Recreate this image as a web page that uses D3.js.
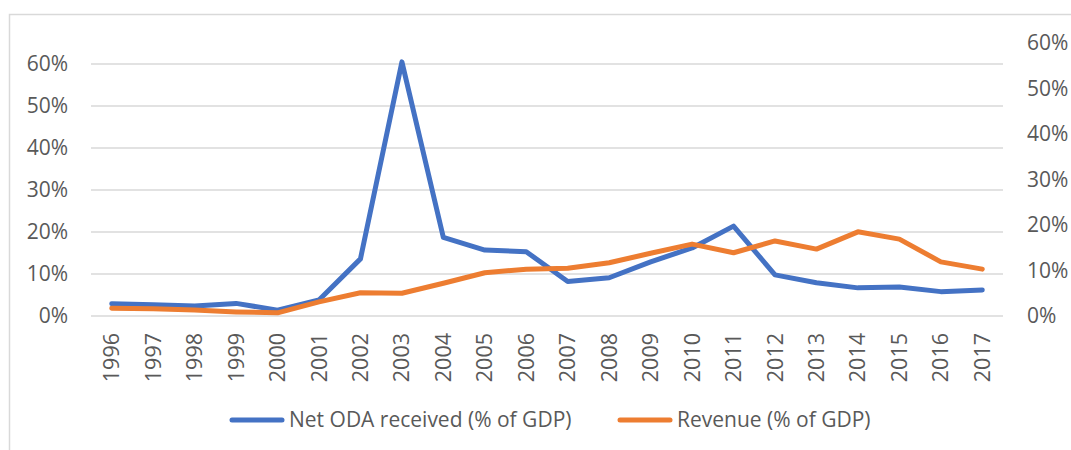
<!DOCTYPE html>
<html>
<head>
<meta charset="utf-8">
<script src="https://cdn.jsdelivr.net/npm/d3@7"></script>
<style>
  body { margin: 0; background: #fff; }
  svg text { font-family: "Open Sans", "Liberation Sans", Arial, sans-serif; fill: #595959; }
</style>
</head>
<body>
<svg width="1071" height="450"></svg>
<script>
// Data
var years = ["1996", "1997", "1998", "1999", "2000", "2001", "2002", "2003", "2004", "2005", "2006",
  "2007", "2008", "2009", "2010", "2011", "2012", "2013", "2014", "2015", "2016", "2017"];
var odaValues = [0.029, 0.027, 0.024, 0.030, 0.014, 0.038, 0.136, 0.605, 0.187, 0.157, 0.153,
  0.082, 0.091, 0.129, 0.162, 0.214, 0.098, 0.079, 0.067, 0.069, 0.058, 0.062];
var revenueValues = [0.017, 0.016, 0.013, 0.009, 0.007, 0.031, 0.051, 0.050, 0.072, 0.095, 0.103,
  0.105, 0.117, 0.138, 0.158, 0.139, 0.165, 0.147, 0.185, 0.169, 0.119, 0.103];
var leftTicks = [0, 0.1, 0.2, 0.3, 0.4, 0.5, 0.6];
var rightTicks = [0, 0.1, 0.2, 0.3, 0.4, 0.5, 0.6];
var seriesNames = ["Net ODA received (% of GDP)", "Revenue (% of GDP)"];

// The svg
var svg = d3.select("svg");

// chart border
svg.append("rect")
  .attr("x", 9.5).attr("y", 14.5)
  .attr("width", 1100).attr("height", 500)
  .attr("fill", "none")
  .attr("stroke", "#d9d9d9")
  .attr("stroke-width", 1.5);

// Scales
var x = d3.scaleBand().domain(years).range([91, 1003]);
var yLeft = d3.scaleLinear().domain([0, 0.65]).range([316, 43]);
var yRight = d3.scaleLinear().domain([0, 0.6]).range([316, 43]);
var pct = d3.format(".0%");

// gridlines
svg.append("g")
  .selectAll("line")
  .data(leftTicks)
  .enter()
  .append("line")
  .attr("x1", 91).attr("x2", 1003)
  .attr("y1", function (d) { return yLeft(d); })
  .attr("y2", function (d) { return yLeft(d); })
  .attr("stroke", "#d9d9d9")
  .attr("stroke-width", 1.5);

// left axis
var leftAxis = svg.append("g")
  .attr("transform", "translate(91,0)")
  .call(d3.axisLeft(yLeft).tickValues(leftTicks).tickFormat(pct).tickSize(0).tickPadding(23));
leftAxis.select(".domain").remove();
leftAxis.selectAll("text").style("font-size", "21px").attr("fill", "#595959");

// right axis
var rightAxis = svg.append("g")
  .attr("transform", "translate(1003,0)")
  .call(d3.axisRight(yRight).tickValues(rightTicks).tickFormat(pct).tickSize(0).tickPadding(24));
rightAxis.select(".domain").remove();
rightAxis.selectAll("text").style("font-size", "21px").attr("fill", "#595959");

// x labels, rotated
svg.append("g")
  .selectAll("text")
  .data(years)
  .enter()
  .append("text")
  .attr("transform", function (d) {
    return "translate(" + (x(d) + x.bandwidth() / 2) + ",333) rotate(-90)";
  })
  .attr("text-anchor", "end")
  .attr("dy", "0.35em")
  .style("font-size", "21.5px")
  .text(function (d) { return d; });

// lines
var odaLine = d3.line()
  .x(function (d, i) { return x(years[i]) + x.bandwidth() / 2; })
  .y(function (d) { return yLeft(d); });
var revLine = d3.line()
  .x(function (d, i) { return x(years[i]) + x.bandwidth() / 2; })
  .y(function (d) { return yRight(d); });

svg.append("path")
  .attr("d", odaLine(odaValues))
  .attr("fill", "none")
  .attr("stroke", "#4472c4")
  .attr("stroke-width", 5)
  .attr("stroke-linejoin", "round")
  .attr("stroke-linecap", "round");

svg.append("path")
  .attr("d", revLine(revenueValues))
  .attr("fill", "none")
  .attr("stroke", "#ed7d31")
  .attr("stroke-width", 5)
  .attr("stroke-linejoin", "round")
  .attr("stroke-linecap", "round");

// legend
var legendItems = [
  { name: seriesNames[0], color: "#4472c4", x: 230 },
  { name: seriesNames[1], color: "#ed7d31", x: 618 }
];
var legend = svg.append("g")
  .selectAll("g")
  .data(legendItems)
  .enter()
  .append("g")
  .attr("transform", function (d) { return "translate(" + d.x + ",420)"; });
legend.append("line")
  .attr("x1", 2).attr("x2", 52)
  .attr("stroke", function (d) { return d.color; })
  .attr("stroke-width", 5)
  .attr("stroke-linecap", "round");
legend.append("text")
  .attr("x", 59)
  .attr("dy", "0.35em")
  .style("font-size", "21px")
  .text(function (d) { return d.name; });
</script>
</body>
</html>
